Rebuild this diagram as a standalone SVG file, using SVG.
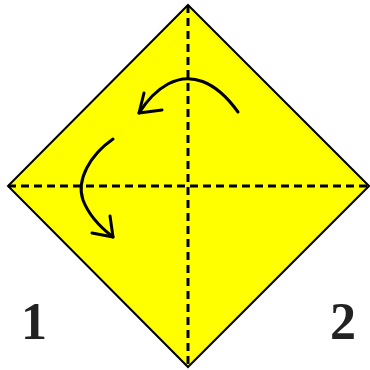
<svg xmlns="http://www.w3.org/2000/svg" width="370" height="370" viewBox="0 0 370 370">
<style>
.dash{stroke:#000;stroke-width:3;stroke-dasharray:8,5;fill:none}
.arrow{stroke:#000;stroke-width:3;fill:none;stroke-linecap:round;stroke-linejoin:round}
.num{font-family:"Liberation Serif","Times New Roman",serif;font-weight:bold;font-size:52px;fill:#222}
</style>
<g id="square">
<polygon points="188,5 369,186 188,367 8,186" fill="#ffff00" stroke="#000" stroke-width="2"/>
</g>
<g id="folds">
<line class="dash" x1="8" y1="186" x2="369" y2="186"/>
<line class="dash" x1="188" y1="5" x2="188" y2="367"/>
</g>
<g id="connectors">
<path class="arrow" d="M238,112 C215,80 190,72 168,84 C155,91 146,102 139,113"/>
<path class="arrow" d="M144,93 L139,113 L162,110"/>
<path class="arrow" d="M113,139 C90,155 76,180 83,200 C89,216 100,227 113,237"/>
<path class="arrow" d="M110,216 L113,237 L92,233"/>
</g>
<g id="label1"><text class="num" x="21" y="339">1</text></g>
<g id="label2"><text class="num" x="330" y="339">2</text></g>
</svg>
